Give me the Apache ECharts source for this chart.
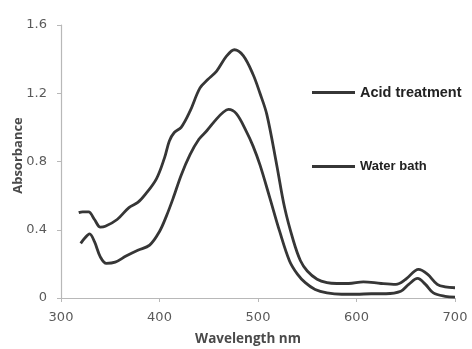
<!DOCTYPE html>
<html>
<head>
<meta charset="utf-8">
<script src="https://cdn.jsdelivr.net/npm/echarts@6/dist/echarts.min.js"></script>
<style>
  html, body { margin: 0; padding: 0; background: #fff; }
  #chart { width: 472px; height: 349px; }
</style>
</head>
<body>
<div id="chart"></div>
<script>
// Absorption spectra: wavelength (nm) vs absorbance
const acidWavelength = [318, 322, 328, 334, 340, 345, 357, 369, 378, 386, 397, 405, 410, 415, 422, 431, 441, 449, 458, 468, 476, 485, 495, 502, 509, 519, 527, 536, 543, 550, 560, 570, 580, 592, 607, 625, 640, 650, 663, 672, 682, 690, 700];
const acidAbsorbance = [0.50, 0.505, 0.505, 0.46, 0.415, 0.42, 0.46, 0.53, 0.56, 0.61, 0.70, 0.82, 0.92, 0.97, 1.00, 1.095, 1.23, 1.28, 1.33, 1.417, 1.455, 1.42, 1.31, 1.20, 1.075, 0.78, 0.53, 0.334, 0.22, 0.158, 0.11, 0.09, 0.085, 0.085, 0.095, 0.085, 0.08, 0.11, 0.168, 0.14, 0.08, 0.065, 0.06];

const waterWavelength = [320, 324, 329, 334, 340, 346, 355, 366, 378, 390, 400, 407, 414, 422, 431, 440, 448, 458, 465, 470, 478, 488, 495, 502, 512, 522, 532, 540, 548, 558, 570, 585, 600, 615, 630, 645, 653, 662, 670, 678, 690, 700];
const waterAbsorbance = [0.32, 0.35, 0.376, 0.33, 0.24, 0.203, 0.21, 0.246, 0.28, 0.31, 0.39, 0.48, 0.587, 0.72, 0.84, 0.93, 0.98, 1.05, 1.09, 1.105, 1.08, 0.978, 0.89, 0.78, 0.587, 0.39, 0.217, 0.14, 0.09, 0.05, 0.03, 0.022, 0.022, 0.025, 0.025, 0.04, 0.08, 0.115, 0.08, 0.03, 0.01, 0.005];

const xTicks = [300, 400, 500, 600, 700];
const yTicks = [0, 0.4, 0.8, 1.2, 1.6];
const seriesNames = ['Acid treatment', 'Water bath'];

const pairs = (xs, ys) => xs.map((x, i) => [x, ys[i]]);

const lineColor = '#363636';
const tickFont = '"DejaVu Sans", "Liberation Sans", sans-serif';
const nameFont = '"Open Sans", "Liberation Sans", sans-serif';
const legendFont = '"Liberation Sans", "DejaVu Sans", sans-serif';

const chart = echarts.init(document.getElementById('chart'));
chart.setOption({
  backgroundColor: '#ffffff',
  animation: false,
  grid: { left: 61, right: 17, top: 25, bottom: 51, containLabel: false, outerBoundsMode: 'none' },
  xAxis: {
    type: 'value',
    min: xTicks[0],
    max: xTicks[xTicks.length - 1],
    interval: 100,
    name: 'Wavelength nm',
    nameLocation: 'middle',
    nameGap: 34,
    nameMoveOverlap: false,
    nameTextStyle: { color: '#4a4a4a', fontSize: 13.5, fontWeight: 'bold', fontFamily: nameFont, padding: [0, 20, 0, 0] },
    axisLine: { lineStyle: { color: '#b8b8b8', width: 1.2 } },
    axisTick: { show: true, length: 4, lineStyle: { color: '#b8b8b8' } },
    axisLabel: { color: '#5a5a5a', fontSize: 13, fontFamily: tickFont, margin: 13 },
    splitLine: { show: false }
  },
  yAxis: {
    type: 'value',
    min: yTicks[0],
    max: yTicks[yTicks.length - 1],
    interval: 0.4,
    name: 'Absorbance',
    nameLocation: 'middle',
    nameGap: 36,
    nameMoveOverlap: false,
    nameTextStyle: { color: '#4a4a4a', fontSize: 13, fontWeight: 'bold', fontFamily: nameFont, padding: [0, 0, 0, 12] },
    axisLine: { show: true, lineStyle: { color: '#b8b8b8', width: 1.2 } },
    axisTick: { show: true, length: 4, lineStyle: { color: '#b8b8b8' } },
    axisLabel: {
      color: '#5a5a5a', fontSize: 13, fontFamily: tickFont, margin: 14,
      formatter: v => (v === 0 ? '0' : v.toFixed(1))
    },
    splitLine: { show: false }
  },
  legend: [
    {
      data: [seriesNames[0]],
      left: 307, top: 80,
      itemWidth: 43, itemHeight: 3, itemGap: 5,
      icon: 'rect',
      textStyle: { color: '#222', fontSize: 14.5, fontWeight: 'bold', fontFamily: legendFont }
    },
    {
      data: [seriesNames[1]],
      left: 307, top: 155,
      itemWidth: 43, itemHeight: 3, itemGap: 8,
      icon: 'rect',
      textStyle: { color: '#222', fontSize: 13, fontWeight: 'bold', fontFamily: legendFont }
    }
  ],
  series: [
    {
      name: seriesNames[0],
      type: 'line',
      data: pairs(acidWavelength, acidAbsorbance),
      smooth: 0.35,
      showSymbol: false,
      lineStyle: { color: lineColor, width: 2.8 },
      itemStyle: { color: lineColor }
    },
    {
      name: seriesNames[1],
      type: 'line',
      data: pairs(waterWavelength, waterAbsorbance),
      smooth: 0.35,
      showSymbol: false,
      lineStyle: { color: lineColor, width: 2.8 },
      itemStyle: { color: lineColor }
    }
  ]
});
</script>
</body>
</html>
